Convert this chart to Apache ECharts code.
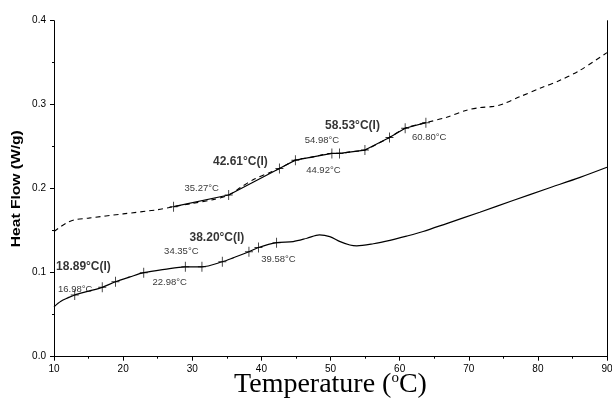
<!DOCTYPE html>
<html>
<head>
<meta charset="utf-8">
<script src="https://cdn.jsdelivr.net/npm/echarts/dist/echarts.min.js"></script>
<style>
  html, body { margin: 0; padding: 0; background: #fff; }
  #chart { width: 612px; height: 403px; }
</style>
</head>
<body>
<div id="chart"></div>
<script>
// DSC traces: heat flow (W/g) against temperature (°C)

// Upper trace (dashed)
const tempA = [10, 11, 12, 13, 15, 20, 25, 27.3, 30, 33, 35.27, 37, 39, 41, 42.61, 44.92, 47, 50.2, 51.3, 53, 54.98, 56.5, 58.53, 60.8, 63.8, 66.8, 69.7, 71.6, 73.6, 75, 77.4, 80.3, 83.2, 86.1, 90];
const flowA = [0.149, 0.155, 0.160, 0.163, 0.165, 0.170, 0.175, 0.1786, 0.1825, 0.187, 0.1925, 0.2015, 0.2115, 0.2185, 0.224, 0.234, 0.237, 0.242, 0.242, 0.244, 0.246, 0.252, 0.261, 0.272, 0.2786, 0.285, 0.2935, 0.2965, 0.298, 0.301, 0.3095, 0.3195, 0.329, 0.341, 0.362];

// Lower trace (solid)
const tempB = [10, 11, 12, 13, 15, 16.98, 18.89, 21, 22.98, 26, 29, 31.4, 34.35, 36, 38.2, 39.58, 42.2, 44.6, 46.6, 48.4, 49.9, 51.4, 52.8, 53.8, 56.2, 58.6, 61, 63.4, 66.8, 71.6, 76.4, 81.3, 86.1, 90];
const flowB = [0.0595, 0.066, 0.070, 0.0735, 0.078, 0.0826, 0.0893, 0.095, 0.100, 0.104, 0.107, 0.107, 0.113, 0.118, 0.125, 0.130, 0.1357, 0.137, 0.141, 0.145, 0.143, 0.137, 0.133, 0.132, 0.1345, 0.1385, 0.1435, 0.149, 0.1585, 0.172, 0.186, 0.200, 0.2135, 0.2255];

// Analysis marks: '' = tangent range limit, 'T' = onset / end, 'I' = inflection
const marksA = [27.3, 35.27, 42.61, 44.92, 50.2, 51.3, 54.98, 58.53, 60.80, 63.8];
const marksAFlow = [0.1786, 0.1925, 0.224, 0.234, 0.242, 0.242, 0.246, 0.261, 0.272, 0.2786];
const marksAKind = ['', 'T', 'I', 'T', '', '', 'T', 'I', 'T', ''];

const marksB = [13.0, 16.98, 18.89, 22.98, 29.0, 31.4, 34.35, 38.20, 39.58, 42.2];
const marksBFlow = [0.0735, 0.0826, 0.0893, 0.100, 0.107, 0.107, 0.113, 0.125, 0.130, 0.1357];
const marksBKind = ['', 'T', 'I', 'T', '', '', 'T', 'I', 'T', ''];

const xTicks = { min: 10, max: 90, step: 10 };
const yTicks = { min: 0, max: 0.4, step: 0.1 };

// label placement (px, relative to the mark)
const offsetsA = { 1: [-27, -7], 2: [-39, -7], 3: [28, 10], 6: [-43, -10], 7: [-37, -12], 8: [24, 9] };
const offsetsB = { 1: [-27, 2], 2: [-32, -15], 3: [26, 10], 6: [-41, -10], 7: [-32, -14], 8: [20, 12] };

const zip = (xs, ys) => xs.map((x, i) => [x, ys[i]]);
const CROSS = 'path://M4,0h1v4.5h4v1h-4v4.5h-1v-4.5h-4v-1h4z';
const font = 'Liberation Sans, Arial, sans-serif';

function markData(ts, vs, kinds, offsets) {
  return ts.map((t, i) => {
    const kind = kinds[i];
    const item = { value: [t, vs[i]] };
    if (kind) {
      const bold = kind === 'I';
      item.label = {
        show: true,
        position: 'inside',
        offset: offsets[i],
        formatter: t.toFixed(2) + '°C' + (bold ? '(I)' : ''),
        fontFamily: font,
        fontSize: bold ? 12 : 9.5,
        fontWeight: bold ? 'bold' : 'normal',
        color: '#000'
      };
    }
    return item;
  });
}

const chart = echarts.init(document.getElementById('chart'), null, { renderer: 'canvas' });

const GRID = { left: 54, right: 5, top: 20.7, bottom: 46.3 };

chart.setOption({
  animation: false,
  backgroundColor: '#fff',
  grid: Object.assign({ containLabel: false, outerBoundsMode: 'none' }, GRID),
  // vertical axis title, set in a wide bold face
  graphic: [{
    type: 'text',
    x: 17,
    y: GRID.top + (403 - GRID.top - GRID.bottom) / 2,
    rotation: Math.PI / 2,
    scaleX: 1.3,
    style: {
      text: 'Heat Flow (W/g)',
      font: 'bold 12px Liberation Sans, Arial, sans-serif',
      fill: '#000',
      align: 'center', verticalAlign: 'middle',
      textAlign: 'center', textVerticalAlign: 'middle'
    }
  }],
  xAxis: {
    type: 'value',
    min: xTicks.min, max: xTicks.max, interval: xTicks.step,
    name: 'Temperature ({o|o}C)',
    nameLocation: 'middle',
    nameGap: 14,
    nameMoveOverlap: false,
    nameTextStyle: {
      fontFamily: 'Liberation Serif, Times New Roman, serif',
      fontSize: 28, color: '#000', verticalAlign: 'top',
      rich: { o: { fontFamily: 'Liberation Serif, serif', fontSize: 15, verticalAlign: 'top', color: '#000' } }
    },
    axisLine: { show: true, onZero: false, lineStyle: { color: '#000', width: 1 } },
    axisTick: { show: true, length: 4, lineStyle: { color: '#000' } },
    minorTick: { show: true, splitNumber: 2, length: 2, lineStyle: { color: '#000' } },
    axisLabel: { fontFamily: font, fontSize: 10, color: '#000', margin: 8 },
    splitLine: { show: false }
  },
  yAxis: [{
    type: 'value',
    min: yTicks.min, max: yTicks.max, interval: yTicks.step,
    axisLine: { show: true, onZero: false, lineStyle: { color: '#000', width: 1 } },
    axisTick: { show: true, length: 4, lineStyle: { color: '#000' } },
    minorTick: { show: true, splitNumber: 2, length: 2, lineStyle: { color: '#000' } },
    axisLabel: { fontFamily: font, fontSize: 10, color: '#000', margin: 8, formatter: v => v.toFixed(1) },
    splitLine: { show: false }
  }, {
    type: 'value', position: 'right',
    min: yTicks.min, max: yTicks.max, interval: yTicks.step,
    axisLine: { show: true, onZero: false, lineStyle: { color: '#000', width: 1 } },
    axisTick: { show: false }, axisLabel: { show: false }, splitLine: { show: false }
  }],
  series: [
    {
      name: 'upper', type: 'line', data: zip(tempA, flowA),
      symbol: 'none', smooth: 0.3,
      lineStyle: { color: '#000', width: 1.1, type: [5, 4] }
    },
    {
      name: 'upper analysis', type: 'line', data: zip(marksA, marksAFlow),
      symbol: 'none', lineStyle: { color: '#000', width: 1.2 }
    },
    {
      name: 'lower', type: 'line', data: zip(tempB, flowB),
      symbol: 'none', smooth: 0.3,
      lineStyle: { color: '#000', width: 1.2 }
    },
    {
      name: 'upper marks', type: 'scatter', symbol: CROSS, symbolSize: [8, 10],
      itemStyle: { color: '#000' }, z: 5,
      data: markData(marksA, marksAFlow, marksAKind, offsetsA)
    },
    {
      name: 'lower marks', type: 'scatter', symbol: CROSS, symbolSize: [8, 10],
      itemStyle: { color: '#000' }, z: 5,
      data: markData(marksB, marksBFlow, marksBKind, offsetsB)
    }
  ]
});
</script>
</body>
</html>
